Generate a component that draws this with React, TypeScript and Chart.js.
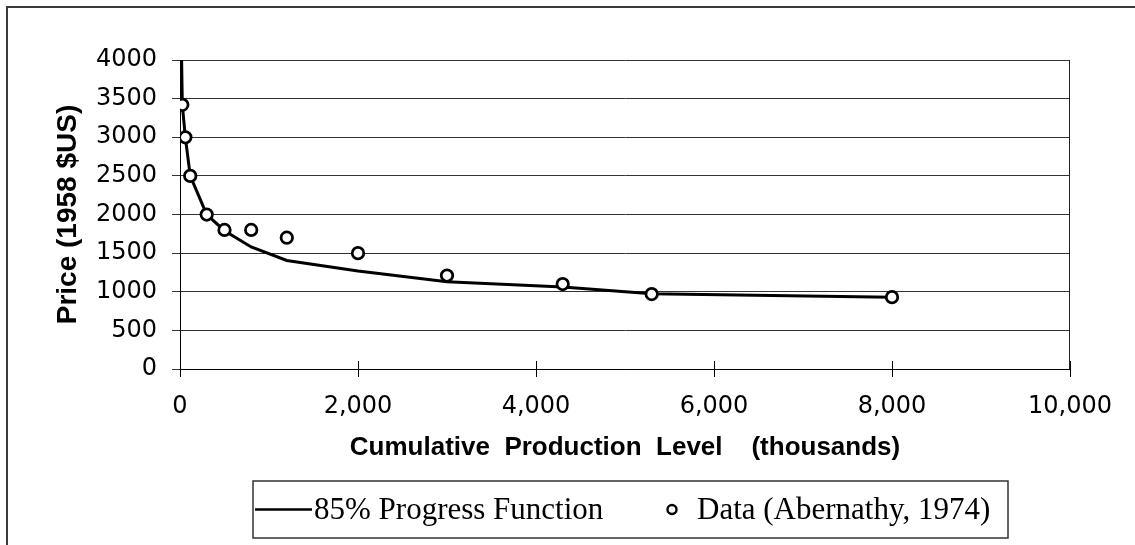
import React, { useEffect, useRef } from "react";
import { Chart, registerables } from "chart.js";

Chart.register(...registerables);

// ---- Data ----
const CURVE_X = [18, 26, 60, 115, 300, 500, 800, 1200, 2000, 3000, 4300, 5300, 8000];
const CURVE_Y = [4000, 3420, 3000, 2500, 2000, 1790, 1580, 1405, 1270, 1130, 1060, 975, 930];
const DATA_X = [26, 60, 115, 300, 500, 800, 1200, 2000, 3000, 4300, 5300, 8000];
const DATA_Y = [3420, 3000, 2500, 2000, 1800, 1800, 1700, 1500, 1210, 1100, 970, 930];
const X_TICKS = [0, 2000, 4000, 6000, 8000, 10000];
const Y_TICKS = [0, 500, 1000, 1500, 2000, 2500, 3000, 3500, 4000];
const SERIES_NAMES = ["85% Progress Function", "Data (Abernathy, 1974)"];
const X_TITLE = "Cumulative  Production  Level    (thousands)";
const Y_TITLE = "Price (1958 $US)";

const decorPlugin = {
  id: "decor",
  afterDraw(chart: any) {
    const { ctx, chartArea: a, scales } = chart;
    const xs = scales.x;
    ctx.save();
    // outer frame
    ctx.strokeStyle = "#3a3a3a";
    ctx.lineWidth = 2;
    ctx.strokeRect(7, 7, 2000, 2000);
    // right border of plot area
    ctx.strokeStyle = "#222";
    ctx.lineWidth = 1;
    const rx = Math.round(a.right) - 0.5;
    ctx.beginPath();
    ctx.moveTo(rx, a.top);
    ctx.lineTo(rx, a.bottom);
    ctx.stroke();
    // inner halves of x tick marks
    ctx.strokeStyle = "#000";
    xs.ticks.forEach((t: any) => {
      const px = Math.round(xs.getPixelForValue(t.value)) + 0.5;
      ctx.beginPath();
      ctx.moveTo(px, a.bottom - 8);
      ctx.lineTo(px, a.bottom);
      ctx.stroke();
    });
    // legend
    const bx = 253, by = 481, bw = 755, bh = 57;
    ctx.strokeStyle = "#333";
    ctx.lineWidth = 1.5;
    ctx.strokeRect(bx, by, bw, bh);
    const cy = by + bh / 2;
    ctx.strokeStyle = "#000";
    ctx.lineWidth = 2.5;
    ctx.beginPath();
    ctx.moveTo(bx + 2, cy);
    ctx.lineTo(312, cy);
    ctx.stroke();
    ctx.fillStyle = "#000";
    ctx.font = "31px 'Liberation Serif', 'Times New Roman', serif";
    ctx.textBaseline = "middle";
    ctx.textAlign = "left";
    ctx.fillText(SERIES_NAMES[0], 314, cy + 1);
    ctx.beginPath();
    ctx.arc(672, cy, 4.5, 0, Math.PI * 2);
    ctx.fillStyle = "#fff";
    ctx.fill();
    ctx.lineWidth = 2.4;
    ctx.strokeStyle = "#000";
    ctx.stroke();
    ctx.fillStyle = "#000";
    ctx.fillText(SERIES_NAMES[1], 697, cy + 1);
    ctx.restore();
  },
};

export default function App() {
  const ref = useRef<HTMLCanvasElement | null>(null);

  useEffect(() => {
    if (!ref.current) return;
    const tickFont = { family: "'DejaVu Sans', sans-serif", size: 24 };
    const chart = new Chart(ref.current, {
      type: "scatter",
      data: {
        datasets: [
          {
            label: SERIES_NAMES[0],
            data: CURVE_X.map((x, i) => ({ x, y: CURVE_Y[i] })),
            showLine: true,
            borderColor: "#000",
            backgroundColor: "#000",
            borderWidth: 3,
            pointRadius: 0,
            tension: 0,
            order: 2,
          },
          {
            label: SERIES_NAMES[1],
            data: DATA_X.map((x, i) => ({ x, y: DATA_Y[i] })),
            showLine: false,
            pointRadius: 5.75,
            pointBorderWidth: 2.75,
            borderColor: "#000",
            backgroundColor: "#fff",
            pointBackgroundColor: "#fff",
            pointBorderColor: "#000",
            order: 1,
          },
        ],
      },
      options: {
        animation: false,
        responsive: true,
        maintainAspectRatio: false,
        layout: { padding: { left: 0, top: 60, right: 65, bottom: 0 } },
        plugins: {
          legend: { display: false },
          tooltip: { enabled: false },
        },
        scales: {
          x: {
            type: "linear",
            min: 0,
            max: 10000,
            afterBuildTicks: (s: any) => {
              s.ticks = X_TICKS.map((v) => ({ value: v }));
            },
            afterFit: (s: any) => {
              s.height = 176;
            },
            ticks: {
              callback: (v: any) => Number(v).toLocaleString("en-US"),
              font: tickFont,
              color: "#000",
              padding: 15,
              maxRotation: 0,
              autoSkip: false,
            },
            grid: { drawOnChartArea: false, tickLength: 8, color: "#000" },
            border: { display: true, color: "#000", width: 1 },
            title: {
              display: true,
              text: X_TITLE,
              color: "#000",
              font: { family: "'Liberation Sans', Arial, sans-serif", size: 26, weight: "bold" },
              padding: { top: 0, bottom: 82 },
            },
          },
          y: {
            type: "linear",
            min: 0,
            max: 4000,
            afterBuildTicks: (s: any) => {
              s.ticks = Y_TICKS.map((v) => ({ value: v }));
            },
            afterFit: (s: any) => {
              s.width = 180;
            },
            ticks: {
              callback: (v: any) => String(v),
              font: tickFont,
              color: "#000",
              padding: 15,
              autoSkip: false,
            },
            grid: { color: "#333", tickLength: 8, lineWidth: 1 },
            border: { display: true, color: "#000", width: 1 },
            title: {
              display: true,
              text: Y_TITLE,
              color: "#000",
              font: { family: "'Liberation Sans', Arial, sans-serif", size: 28, weight: "bold" },
              padding: { top: 51, bottom: 0 },
            },
          },
        },
      },
      plugins: [decorPlugin],
    });
    return () => chart.destroy();
  }, []);

  return (
    <div style={{ position: "absolute", left: 0, top: 0, width: 1135, height: 545, background: "#fff" }}>
      <canvas ref={ref} />
    </div>
  );
}
